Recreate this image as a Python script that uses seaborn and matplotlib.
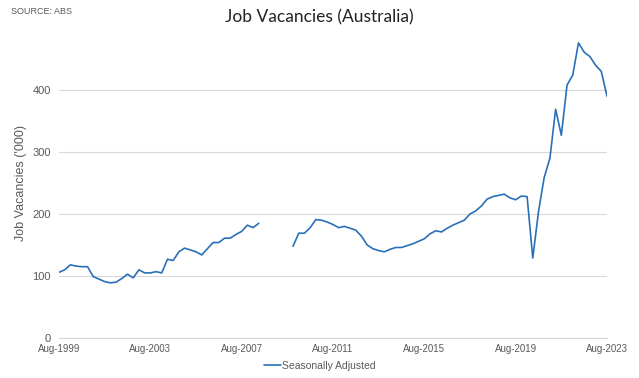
import numpy as np
import pandas as pd
import matplotlib
matplotlib.use("Agg")
import matplotlib.pyplot as plt
from matplotlib.lines import Line2D
import seaborn as sns

# quarterly job vacancies ('000), Aug-1999 .. Aug-2023
# survey suspended Aug-2008 .. Aug-2009
first_run = [106, 110, 118, 116, 115, 115, 99, 95, 91, 89, 90, 96,
             103, 97, 110, 105, 105, 107, 105, 127, 125, 139, 145, 142,
             139, 134, 144, 154, 154, 161, 161, 167, 172, 182, 178, 185]
suspended = [np.nan] * 5
second_run = [148, 169, 169, 178, 191, 190, 187, 183, 178, 180, 177, 174,
              164, 150, 144, 141, 139, 143, 146, 146, 149, 152, 156, 160,
              168, 173, 171, 177, 182, 186, 190, 200, 205, 213, 224, 228,
              230, 232, 226, 223, 229, 228, 129, 204, 259, 290, 369, 327,
              408, 424, 476, 461, 454, 440, 430, 390]
tick_labels = ["Aug-1999", "Aug-2003", "Aug-2007", "Aug-2011",
               "Aug-2015", "Aug-2019", "Aug-2023"]
series_name = "Seasonally Adjusted"

values = first_run + suspended + second_run
df = pd.DataFrame({"q": np.arange(len(values)), "vacancies": values})
df["segment"] = df["vacancies"].isna().cumsum()
df = df.dropna()

sns.set_style("white")
plt.rcParams["font.family"] = ["Liberation Sans", "DejaVu Sans"]

line_color = "#2a70b8"
grid_color = "#d9d9d9"
text_color = "#595959"

fig = plt.figure(figsize=(6.39, 3.78), dpi=100)
ax = fig.add_axes([59 / 639, 1 - 338 / 378, 548 / 639, 310 / 378])

sns.lineplot(data=df, x="q", y="vacancies", units="segment", estimator=None,
             color=line_color, linewidth=1.2, legend=False, ax=ax)

ax.set_xlim(0, len(values) - 1)
ax.set_ylim(0, 500)
ax.set_yticks([0, 100, 200, 300, 400])
ax.set_xticks(np.arange(0, len(values), 16))
ax.set_xticklabels(tick_labels)
ax.yaxis.grid(True, color=grid_color, linewidth=0.8)
ax.set_axisbelow(True)
for side in ["top", "right", "left"]:
    ax.spines[side].set_visible(False)
ax.spines["bottom"].set_color(grid_color)
ax.spines["bottom"].set_linewidth(0.8)
ax.tick_params(axis="x", length=3, width=0.8, color=grid_color,
               labelsize=7, labelcolor=text_color, pad=1)
ax.tick_params(axis="y", length=0, labelsize=8, labelcolor=text_color, pad=6)
ax.set_xlabel("")
ax.set_ylabel("Job Vacancies ('000)", fontsize=9, color=text_color, labelpad=4)

fig.text(0.5, 0.955, "Job Vacancies (Australia)", ha="center", va="center",
         fontsize=12.5, family=["Lato", "DejaVu Sans"], color="#222222")
fig.text(11 / 639, 1 - 11 / 378, "SOURCE: ABS", ha="left", va="center",
         fontsize=6.5, color=text_color)

handle = Line2D([], [], color=line_color, linewidth=1.2)
fig.legend([handle], [series_name], loc="center", bbox_to_anchor=(0.5, 1 - 366 / 378),
           frameon=False, fontsize=7.5, labelcolor=text_color,
           handlelength=1.6, handletextpad=0.1)

fig.savefig("out.png", dpi=100)
